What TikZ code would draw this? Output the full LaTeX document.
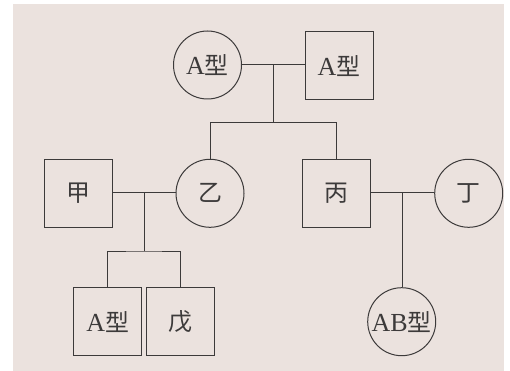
\documentclass[tikz,border=0pt]{standalone}
\usepackage{fontspec}
\setmainfont{Liberation Serif}
\newfontfamily\cjk{Noto Sans CJK SC}[Scale=0.92]
\definecolor{bgc}{HTML}{EBE2DE}
\definecolor{lnc}{HTML}{3C3A3A}
\begin{document}
\begin{tikzpicture}[x=1pt,y=-1pt,
  male/.style={draw=lnc, line width=1pt, minimum size=68pt, inner sep=0pt, text=lnc, font=\fontsize{26}{26}\selectfont},
  female/.style={circle, draw=lnc, line width=1pt, minimum size=68pt, inner sep=0pt, text=lnc, font=\fontsize{26}{26}\selectfont},
  conn/.style={draw=lnc, line width=1pt}]
\useasboundingbox (0,0) rectangle (510,371);
\fill[bgc] (13,4) rectangle (504,371);
% generation I
\node[female] (gm) at (207.5,65) {A{\cjk 型}};
\node[male] (gf) at (339,66) {A{\cjk 型}};
% generation II
\node[male] (jia) at (78,193.5) {\cjk 甲};
\node[female] (yi) at (210,193.3) {\cjk 乙};
\node[male] (bing) at (336,193.2) {\cjk 丙};
\node[female] (ding) at (468.7,193.3) {\cjk 丁};
% generation III
\node[male] (c1) at (107.7,321.8) {A{\cjk 型}};
\node[male] (wu) at (180.5,321.8) {\cjk 戊};
\node[female] (ab) at (401.7,321.7) {AB{\cjk 型}};
% coordinates
\coordinate (m1) at (273.3,65);
\coordinate (s1) at (273.3,122.7);
\coordinate (m2) at (144,192.7);
\coordinate (s2) at (144,251);
\coordinate (m3) at (402.7,192.7);
% lines
\draw[conn] (gm.east) -- (gf.west |- gm.east);
\draw[conn] (m1) -- (s1);
\draw[conn] (yi.north) |- (s1) -| (bing.north);
\draw[conn] (jia.east |- m2) -- (yi.west |- m2);
\draw[conn] (m2) -- (s2);
\draw[conn] (c1.north) |- (s2) -| (wu.north);
\draw[conn] (bing.east |- m3) -- (ding.west |- m3);
\draw[conn] (m3) -- (ab.north -| m3);
\end{tikzpicture}
\end{document}
